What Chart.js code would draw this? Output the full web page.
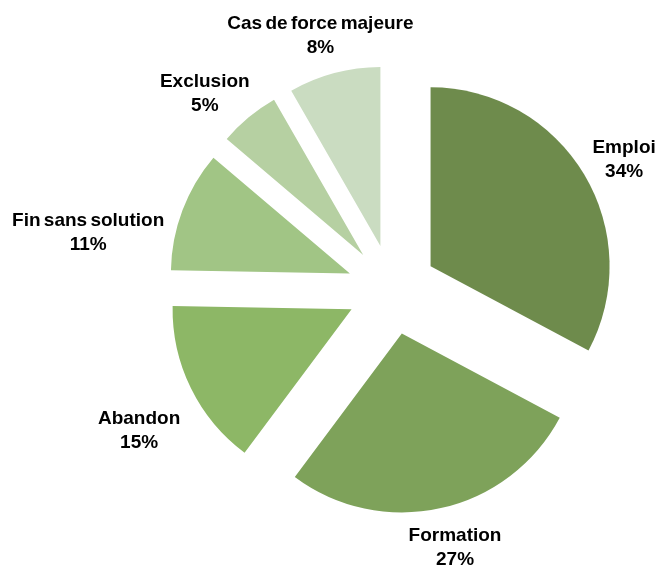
<!DOCTYPE html>
<html>
<head>
<meta charset="utf-8">
<script src="https://cdn.jsdelivr.net/npm/chart.js@4"></script>
<style>
  html, body { margin: 0; padding: 0; background: #fff; }
  #wrap { width: 658px; height: 566px; }
</style>
</head>
<body>
<div id="wrap"><canvas id="pie" width="658" height="566"></canvas></div>
<script>
const categories = ["Emploi", "Formation", "Abandon", "Fin sans solution", "Exclusion", "Cas de force majeure"];
const shares = [32.8, 27.4, 15.1, 10.9, 5.5, 8.3];
const labelPercents = [34, 27, 15, 11, 5, 8];
const sliceColors = ["#6e8b4c", "#7ea25a", "#8db766", "#a1c585", "#b6d0a2", "#cadcc1"];
// small nudges so labels sit where Excel put them
const labelNudge = [[4, 7.5], [5, -1], [-14, 24.5], [-55, 37.5], [-17, 8.5], [-3, 3.5]];

const EXPLODE = 45;
const LABEL_GAP = 42;

// chart.js' own offset also grows small slices, so push every slice out by hand
const explode = {
  id: "explode",
  beforeDatasetsDraw(chart) {
    const ctx = chart.ctx;
    chart.getDatasetMeta(0).data.forEach(arc => {
      const mid = (arc.startAngle + arc.endAngle) / 2;
      ctx.save();
      ctx.translate(Math.cos(mid) * EXPLODE, Math.sin(mid) * EXPLODE);
      arc.draw(ctx, chart.chartArea);
      ctx.restore();
    });
    return false;
  }
};

// draw "Name / xx%" labels around the slices
const pieLabels = {
  id: "pieLabels",
  afterDraw(chart) {
    const ctx = chart.ctx;
    const arcs = chart.getDatasetMeta(0).data;
    ctx.save();
    ctx.font = "bold 19px 'Liberation Sans', Arial, sans-serif";
    if ("wordSpacing" in ctx) ctx.wordSpacing = "-2px";
    ctx.fillStyle = "#000";
    ctx.textAlign = "center";
    ctx.textBaseline = "middle";
    arcs.forEach((arc, i) => {
      const mid = (arc.startAngle + arc.endAngle) / 2;
      const dist = arc.outerRadius + EXPLODE + LABEL_GAP;
      const x = arc.x + Math.cos(mid) * dist + labelNudge[i][0];
      const y = arc.y + Math.sin(mid) * dist + labelNudge[i][1];
      ctx.fillText(categories[i], x, y - 12);
      ctx.fillText(labelPercents[i] + "%", x, y + 12);
    });
    ctx.restore();
  }
};

new Chart(document.getElementById("pie"), {
  type: "pie",
  data: {
    labels: categories,
    datasets: [{
      data: shares,
      backgroundColor: sliceColors,
      borderWidth: 0,
      radius: 179
    }]
  },
  options: {
    responsive: false,
    animation: false,
    layout: { padding: { left: 126, right: 0, top: 13, bottom: 0 } },
    plugins: {
      legend: { display: false },
      tooltip: { enabled: false }
    }
  },
  plugins: [explode, pieLabels]
});
</script>
</body>
</html>
